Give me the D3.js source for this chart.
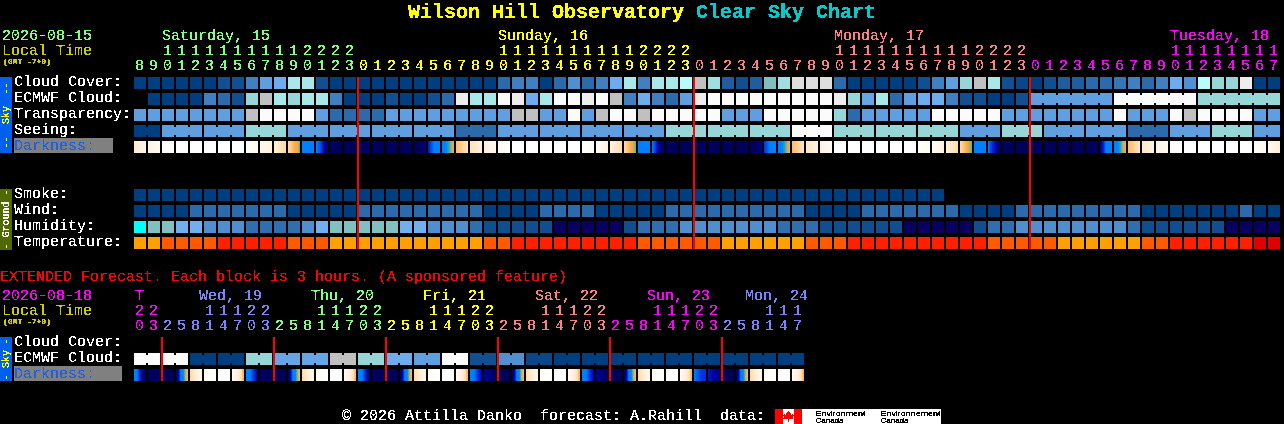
<!DOCTYPE html>
<html><head><meta charset="utf-8">
<script src="https://cdn.jsdelivr.net/npm/d3@7/dist/d3.min.js"></script>
<style>
html,body{margin:0;padding:0;background:#000;overflow:hidden}
svg{display:block}
text{font-family:"Liberation Mono",monospace;white-space:pre;text-rendering:optimizeSpeed}
</style></head><body>
<script>
// ---------- data ----------
const hours = [8,9,10,11,12,13,14,15,16,17,18,19,20,21,22,23,
  0,1,2,3,4,5,6,7,8,9,10,11,12,13,14,15,16,17,18,19,20,21,22,23,
  0,1,2,3,4,5,6,7,8,9,10,11,12,13,14,15,16,17,18,19,20,21,22,23,
  0,1,2,3,4,5,6,7,8,9,10,11,12,13,14,15,16,17];
const hourDay = [[0,16],[1,24],[2,24],[3,18]];
const dayLabels = ["Saturday, 15","Sunday, 16","Monday, 17","Tuesday, 18"];
const dayColors = ["#80FF80","#FFFF00","#FF8080","#FF00FF"];
const dayLabelCols = [2,26,50,74];

const cloud = [0,0,0,0,0,0,1,1,3,4,
  5,7,7,1,0,0,0,0,0,0,
  0,0,0,0,0,0,2,3,3,0,
  2,3.5,2,3,5,7,3,7,7,7.5,
  8,6.5,1.5,1,1.5,5.5,6.5,9,9,9,
  2,0,0,0,0,0,1,3,4,6,
  8,7,1,0.5,0,1,1.5,1.5,2,2,
  2.5,3,2,3,5,3.5,7.5,6,6,9.5,
  0,0];
const ecmwf = [null,0,0,0,0,3,2,1,6,8,
  7,6,7,7,3,0,0,0,1,0,
  0,1,2,9.5,7,7,10,9.5,5,7,
  10,10,9.5,10,8,3,5,3,2,4,
  9.5,10,10,10,10,10,10,10,10,10,
  9.5,6,4.5,7,2,4,5,5,3,1,
  1,0,0,1,4,4,4,4,4,4,
  10,10,10,10,10,10,6,6,6,6,6,6];
const ecmwfJoined = [[64,6],[70,6],[76,6]];
const transparency = [4,4,4,4,4,4,4,4,8,10,
  10,10,10,4,2,2,2,2,4,4,
  4,4,4,4,4,4,4,8,8,4,
  4,10,4,8,10,10,8,10,10,10,
  10,10,4,4,4,10,10,10,10,10,
  6,2,4,4,4,4,4,10,10,10,
  10,10,4,4,4,4,4,4,4,4,
  10,4,4,4,10,8,10,10,10,10,
  4,4];
const seeingSpans =  [2,3,3,3,3,3,3,3,3,3,3,3,3,3,3,3,3,3,3,3,3,3,3,3,3,3,3,2];
const seeingLevels = [0,4,4,6,4,4,4,4,2,4,4,4,4,6,6,6,10,6,6,6,4,6,4,4,2,4,6,4];
const darkness = [[1.2,.7],[.8,.3],[.3,0],[0],[0],[0],[0],[0],[0,.5],[.5,1],
  [1,1.9],[1.8,2.2,2.6,3,3,3.9],[5,5],[5,5.5,7,8],[8],[8],[8],[8],[8],[8],
  [8,8,7.5],[6.5,5,5],[5,5,4.6,3.5,3],[2.6,1.4],[1.5,1],[1,.4],[.4,0],[0],[0],[0],
  [0],[0],[0,.2],[.3,.8],[.8,1.8],[1.8,2.2,2.6,3,3.2,3.9],[5,5],[5,5.7,7,7.6,8],[8],[8],
  [8],[8],[8],[8],[8,8,7.3],[6,5,5],[5,5,4.6,3.4,3],[2.6,1.4],[1.4,.9],[.9,.3],
  [0],[0],[0],[0],[0],[0],[0,.3],[.3,.9],[.9,1.8],[1.8,2.2,2.6,3,3.3,3.9],
  [5,5],[5,6,7,7.8],[8],[8],[8],[8],[8],[8],[8],[7.7,6.5,5,5,5],
  [5,5,4.5,3.3,3],[2.6,1.4],[1.4,.8],[.8,.3],[.3,0],[0],[0],[0],[0],[0],
  [0,.4],[.4,1.1]];
const smoke = d3.range(58).map(()=>0);
const wind = [0,0,0,0,2,2,2,2,2,2,
  2,0,0,0,0,0,2,2,2,2,
  2,2,2,2,2,0,0,0,0,2,
  2,2,2,0,0,0,0,0,2,2,
  2,2,2,2,2,2,2,2,0,0,
  0,0,2,2,2,2,2,2,2,0,
  0,0,0,2,2,2,2,2,2,2,
  2,2,0,0,0,0,0,0,0,2,
  0,0];
const humidity = [6,5,5,4,4,3,3,3,2,2,
  2,2,3,4,5,5,5,5,5,4,
  4,3,3,3,2,1,1,1,1,1,
  0,0,0,0,0,1,2,2,2,3,
  3,3,3,3,3,3,2,2,2,1,
  1,1,1,1,1,0,0,0,0,0,
  1,2,2,3,3,3,3,3,3,3,
  3,2,1,1,1,1,1,1,0,0,
  0,0];
const temperature = [0,0,1,1,1,1,2,2,2,2,
  2,1,1,1,0,0,0,0,0,0,
  0,0,0,0,0,1,1,2,2,2,
  2,2,2,2,2,2,1,1,1,1,
  1,1,0,0,0,0,0,0,1,1,
  1,2,2,2,2,2,2,2,2,2,
  2,1,1,1,1,1,0,0,0,0,
  0,0,1,1,2,2,2,2,2,2,
  3,3];
const midnightCols = [16,40,64];

// extended forecast (3-hour blocks)
const extHours = [20,23,2,5,8,11,14,17,20,23,2,5,8,11,14,17,20,23,2,5,8,11,14,17,20,23,
  2,5,8,11,14,17,20,23,2,5,8,11,14,17,20,23,2,5,8,11,14,17];
const extDaySpans = [2,8,8,8,8,8,6];
const extDayLabels = ["T","Wed, 19","Thu, 20","Fri, 21","Sat, 22","Sun, 23","Mon, 24"];
const extDayX = [135,199,311,423,535,647,745];
const extEcmwf = [10,10,0,0,6,4.5,4.5,8,6,5,4,10,1,3.5,.5,0,0,0,0,0,0,0,0,0];
const extDark = [[5,5,6.5,7.5,8],[8],[8],[8,7,5,5,3.3,2.6],[2,1,.5],[.3,0],[0],[.3,.7,1,1.6,3],
  [5,5,6,8],[8],[8],[8,7,5,5,3.5,2.6],[2,1,.5],[.3,0],[0],[.3,.7,1,1.6,3],
  [5,5,6.5,8],[8],[8],[8,7,5,5,3.3,2.6],[2,1,.5],[.3,0],[0],[.3,.7,1,1.6,3],
  [5,5,6,7],[7,7.6,8],[8],[8,7,5,5,3.3,2.6],[2,1,.5],[.3,0],[0],[.3,.7,1,1.6,3],
  [5,5,6,7],[7,7.6,8],[8],[8,7,5,5,3.3,2.6],[2,1,.5],[.3,0],[0],[.3,.7,1,1.6,3],
  [5,5.5,6,6],[6.5,7,7.6],[8],[8,7,5,5,3.3,2.6],[2,1,.5],[.3,0],[0],[.3,.7,1,1.6,3]];
const extMidnightCols = [2,10,18,26,34,42];

// ---------- palettes ----------
const skyColor = d3.scaleLinear()
  .domain([0,1,2,3,4,5,5.5,6,7,7.5,8,9,9.5,10])
  .range(["#003F7F","#124F90","#2C6BAB","#4080C0","#5F9FDF","#6DADEE","#7FBFBF","#96D6D6","#A8E8E8","#B8FBFB","#C0C0C0","#DEDEDE","#EDEDED","#FBFBFB"]);
const darkColor = d3.scaleLinear()
  .domain([0,1,2,3,4,5,6,7,8])
  .range(["#FFFFFF","#FFF0DC","#FFD8A0","#FFA840","#20C0A0","#0080FF","#0030E0","#0000A0","#00005C"]);
const humidityColors = ["#08005F","#104F8F","#306FAF","#4F8FCF","#70B0F0","#80C0C0","#00FFFF"];
const tempColors = ["#FFA000","#FF5A00","#FF2000","#E00000"];
const sky = v=>skyColor(v);

// ---------- drawing ----------
const svg = d3.select("body").append("svg").attr("width",1284).attr("height",424);
const defs = svg.append("defs");
function bitFilter(id,table){
  const f = defs.append("filter").attr("id",id).attr("filterUnits","userSpaceOnUse")
    .attr("x",0).attr("y",0).attr("width",1284).attr("height",424)
    .attr("color-interpolation-filters","sRGB");
  f.append("feComponentTransfer").append("feFuncA").attr("type","discrete").attr("tableValues",table);
}
bitFilter("bit","0 0 0 0 1 1 1 1 1 1");
bitFilter("bitBold","0 0 0 1 1 1 1 1 1 1");

const cols = d3.scaleLinear().domain([0,82]).range([134,134+82*14]);
const CELL = 12;
const marks = svg.append("g").attr("shape-rendering","crispEdges");
const label = svg.append("g").attr("filter","url(#bit)");
const bold = svg.append("g").attr("filter","url(#bitBold)");

function txt(str,x,y,fill,size,opt={}){
  const t=(opt.bold?bold:label).append("text").attr("x",x).attr("y",y).attr("fill",fill)
    .attr("font-size",size).attr("font-weight",opt.bold?"bold":null).text(str);
  if(opt.w) t.attr("textLength",opt.w).attr("lengthAdjust","spacingAndGlyphs");
  return t;
}
function row(vals,y,color){
  const data = vals.map((v,i)=>({v,i})).filter(d=>d.v!==null);
  marks.append("g").selectAll("rect").data(data).join("rect")
    .attr("x",d=>cols(d.i)).attr("y",y).attr("width",CELL).attr("height",CELL)
    .attr("fill",d=>color(d.v));
}
function joinRuns(runs,vals,y,color){
  runs.forEach(([start,n])=>{
    d3.range(start,start+n-1).forEach(i=>{
      marks.append("rect").attr("x",cols(i)+CELL).attr("y",y+2)
        .attr("width",2).attr("height",CELL-4).attr("fill",color(vals[i]));
    });
  });
}
let gid=0;
function darkRow(vals,y){
  const ids = vals.map(stops=>{
    const id="g"+(gid++);
    const g=defs.append("linearGradient").attr("id",id);
    stops.forEach((t,k)=>g.append("stop")
      .attr("offset",stops.length>1?k/(stops.length-1):0).attr("stop-color",darkColor(t)));
    return id;
  });
  marks.append("g").selectAll("rect").data(vals).join("rect")
    .attr("x",(d,i)=>cols(i)).attr("y",y).attr("width",CELL).attr("height",CELL)
    .attr("fill",(d,i)=>vals[i].length>1?`url(#${ids[i]})`:darkColor(vals[i][0]));
}
function expand(spec){ return spec.flatMap(([c,n])=>d3.range(n).map(()=>c)); }

// title
txt("Wilson Hill Observatory",408,18,"#FFFF00",20,{bold:true});
txt("Clear Sky Chart",696,18,"#00CCCC",20,{bold:true});

// main header
const hc = expand(hourDay);
txt("2026-08-15",2,40,dayColors[0],15);
txt("Local Time",2,55,"#CCCC00",15);
txt("(GMT -7+0)",3,64,"#CCCC00",7,{w:48,bold:true});
dayLabels.forEach((s,i)=>txt(s,cols(dayLabelCols[i]),40,dayColors[i],15));
hours.forEach((h,i)=>{
  const x=cols(i)+1;
  if(h>=10) txt(String(h).slice(0,1),x,55,dayColors[hc[i]],15);
  txt(String(h%10),x,70,dayColors[hc[i]],15);
});

// row labels
["Cloud Cover:","ECMWF Cloud:","Transparency:","Seeing:"].forEach((s,i)=>txt(s,14,86+16*i,"#FFFFFF",15));
marks.append("rect").attr("x",14).attr("y",138).attr("width",99).attr("height",15).attr("fill","#808080");
txt("Darkness:",14,150,"#2060E0",15);
["Smoke:","Wind:","Humidity:","Temperature:"].forEach((s,i)=>txt(s,14,198+16*i,"#FFFFFF",15));

// sidebars
marks.append("rect").attr("x",0).attr("y",77).attr("width",12).attr("height",76).attr("fill","#0060EE");
marks.append("rect").attr("x",0).attr("y",189).attr("width",12).attr("height",61).attr("fill","#506A00");
marks.append("rect").attr("x",0).attr("y",337).attr("width",12).attr("height",44).attr("fill","#0060EE");
function side(s,cy,fill){
  bold.append("text").attr("transform",`translate(9,${cy}) rotate(-90)`)
    .attr("text-anchor","middle").attr("fill",fill).attr("font-size",10).text(s);
}
side("--  Sky  --",115,"#FFFF00");
side("- Ground -",219.5,"#FFFFFF");
side("- Sky -",359,"#FFFF00");

// main rows
row(cloud,77,sky);
row(ecmwf,93,sky);
joinRuns(ecmwfJoined,ecmwf,93,sky);
row(transparency,109,sky);
const seeing = seeingSpans.flatMap((n,i)=>d3.range(n).map(()=>seeingLevels[i]));
row(seeing,125,sky);
let sc=0; const seeRuns=seeingSpans.map(n=>{const r=[sc,n]; sc+=n; return r;});
joinRuns(seeRuns,seeing,125,sky);
darkRow(darkness,141);
row(smoke,189,sky);
row(wind,205,sky);
row(humidity,221,v=>humidityColors[v]);
row(temperature,237,v=>tempColors[v]);
midnightCols.forEach(c=>marks.append("rect").attr("x",cols(c)-1).attr("y",77).attr("width",2).attr("height",172).attr("fill","#FF0000"));

// extended forecast
txt("EXTENDED Forecast. Each block is 3 hours. (A sponsored feature)",0,281,"#FF0000",15);
txt("2026-08-18",2,300,"#FF00FF",15);
txt("Local Time",2,315,"#CCCC00",15);
txt("(GMT -7+0)",3,324,"#CCCC00",7,{w:48,bold:true});
const extLabelColors=["#FF00FF","#7C84FF","#80FF80","#FFFF00","#FF8080","#FF00FF","#7C84FF"];
extDayLabels.forEach((s,i)=>txt(s,extDayX[i],300,extLabelColors[i],15));
const ec = extDaySpans.flatMap((n,i)=>d3.range(n).map(()=>extLabelColors[i]));
extHours.forEach((h,i)=>{
  const x=cols(i)+1;
  if(h>=10) txt(String(h).slice(0,1),x,315,ec[i],15);
  txt(String(h%10),x,330,ec[i],15);
});
txt("Cloud Cover:",14,346,"#FFFFFF",15);
txt("ECMWF Cloud:",14,362,"#FFFFFF",15);
marks.append("rect").attr("x",14).attr("y",366).attr("width",108).attr("height",15).attr("fill","#808080");
txt("Darkness:",14,378,"#2060E0",15);
const extEc = extEcmwf.flatMap(v=>[v,v]);
row(extEc,353,sky);
joinRuns(extEcmwf.map((_,i)=>[i*2,2]),extEc,353,sky);
darkRow(extDark,369);
extMidnightCols.forEach(c=>marks.append("rect").attr("x",cols(c)-1).attr("y",337).attr("width",2).attr("height",44).attr("fill","#FF0000"));

// footer
txt("\u00A9 2026 Attilla Danko  forecast: A.Rahill  data:",342,420,"#FFFFFF",15);
marks.append("rect").attr("x",775).attr("y",409).attr("width",166).attr("height",15).attr("fill","#FFFFFF");
marks.append("rect").attr("x",775).attr("y",409).attr("width",8).attr("height",15).attr("fill","#FF0000");
marks.append("rect").attr("x",794).attr("y",409).attr("width",8).attr("height",15).attr("fill","#FF0000");
svg.append("path").attr("transform","translate(788.5,416.5)")
  .attr("d","M0,-6L1.4,-3.6L3,-4.3L2.3,-1L4.6,-2.6L5.4,-1L4,0.4L5,2L1,2.2L0.6,5.5L-0.6,5.5L-1,2.2L-5,2L-4,0.4L-5.4,-1L-4.6,-2.6L-2.3,-1L-3,-4.3L-1.4,-3.6Z")
  .attr("fill","#FF0000").attr("shape-rendering","crispEdges");
const logo = svg.append("g").attr("filter","url(#bitBold)");
[["Environment",815.5,416,50],["Canada",815.5,422.5,28],["Environnement",880.5,416,60],["Canada",880.5,422.5,28]].forEach(([s,x,y,w])=>{
  logo.append("text").attr("x",x).attr("y",y).attr("fill","#000").attr("font-size",8)
    .attr("textLength",w).attr("lengthAdjust","spacingAndGlyphs")
    .style("font-family","'Liberation Sans',sans-serif").text(s);
});
</script>
</body></html>
